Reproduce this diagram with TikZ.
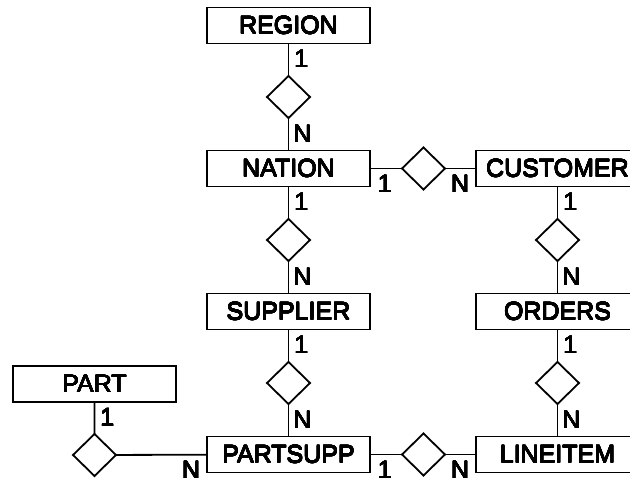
\documentclass[tikz,border=0pt]{standalone}
\usepackage{fontspec}
\setmainfont{Liberation Sans}
\usepackage{contour}
\contourlength{0.25pt}
\newcommand{\erlabel}[1]{\contour{black}{#1}}
\usepackage{tikz}
\usetikzlibrary{shapes.geometric, positioning}

\begin{document}
\begin{tikzpicture}[
    node distance=32.5pt,
    every node/.style={align=center, font=\fontsize{25}{30}\selectfont}
]
    % Define styles
    \tikzstyle{entity} = [rectangle, minimum width=163pt, minimum height=36pt, inner sep=0pt, outer sep=0pt, draw=black, fill=white, line width=1.8pt]
    \tikzstyle{relation} = [diamond, minimum width=43pt, minimum height=42pt, inner sep=0pt, outer sep=0pt, draw=black, fill=white, line width=1.8pt]
    \tikzstyle{link} = [line width=1.8pt]
    \tikzstyle{onedown} = [anchor=north west, inner sep=4pt, xshift=1pt, yshift=-2pt]
    \tikzstyle{nup} = [anchor=south west, inner sep=4pt, yshift=3pt]
    \tikzstyle{oneright} = [anchor=north west, inner sep=4pt, xshift=3pt, yshift=-2pt]
    \tikzstyle{nleft} = [anchor=north east, inner sep=4pt, xshift=-2pt, yshift=-2pt]

    \useasboundingbox (0pt,0pt) rectangle (630pt,-478pt);

    % Left column
    \node [entity] (region) at (288.5pt,-25.5pt) {\erlabel{REGION}};
    \node [relation, below=of region] (inregion) {};
    \node [entity, below=of inregion] (nation) {\erlabel{NATION}};
    \node [relation, below=of nation] (innation) {};
    \node [entity, below=of innation] (supplier) {\erlabel{SUPPLIER}};
    \node [relation, below=of supplier] (supplies) {};
    \node [entity, below=of supplies] (partsupp) {\erlabel{PARTSUPP}};

    % Right column
    \node [relation, right=32pt of nation] (livesin) {};
    \node [entity, right=31pt of livesin] (customer) {\erlabel{CUSTOMER}};
    \node [relation, below=of customer] (places) {};
    \node [entity, below=of places] (orders) {\erlabel{ORDERS}};
    \node [relation, below=of orders] (contains) {};
    \node [entity, below=of contains] (lineitem) {\erlabel{LINEITEM}};
    \node [relation, right=32pt of partsupp] (fills) {};

    % Part
    \node [entity, above left=34.5pt and 31pt of partsupp] (part) {\erlabel{PART}};
    \node [relation, below=32pt of part] (offers) {};

    % Vertical relationships
    \draw [link] (region) -- node[pos=0, onedown] {\erlabel{1}} (inregion) -- node[pos=1, nup] {\erlabel{N}} (nation);
    \draw [link] (nation) -- node[pos=0, onedown] {\erlabel{1}} (innation) -- node[pos=1, nup] {\erlabel{N}} (supplier);
    \draw [link] (supplier) -- node[pos=0, onedown] {\erlabel{1}} (supplies) -- node[pos=1, nup] {\erlabel{N}} (partsupp);
    \draw [link] (customer) -- node[pos=0, onedown] {\erlabel{1}} (places) -- node[pos=1, nup] {\erlabel{N}} (orders);
    \draw [link] (orders) -- node[pos=0, onedown] {\erlabel{1}} (contains) -- node[pos=1, nup] {\erlabel{N}} (lineitem);

    % Horizontal relationships
    \draw [link] (nation) -- node[pos=0, oneright] {\erlabel{1}} (livesin) -- node[pos=1, nleft] {\erlabel{N}} (customer);
    \draw [link] (partsupp) -- node[pos=0, oneright] {\erlabel{1}} (fills) -- node[pos=1, nleft] {\erlabel{N}} (lineitem);
    \draw [link] (part) -- node[pos=0, onedown] {\erlabel{1}} (offers) -- node[pos=1, nleft] {\erlabel{N}} (partsupp);

\end{tikzpicture}
\end{document}
